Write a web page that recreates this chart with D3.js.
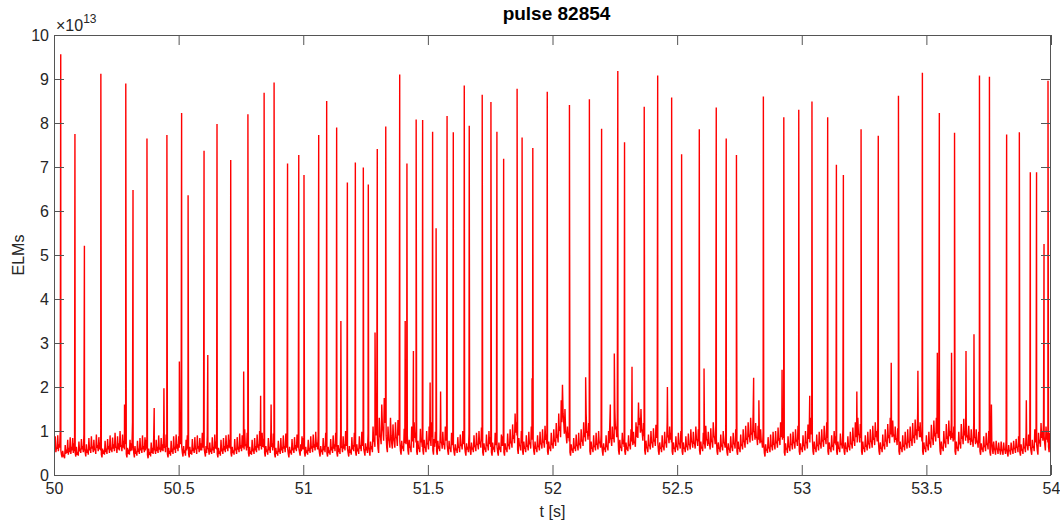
<!DOCTYPE html>
<html>
<head>
<meta charset="utf-8">
<script src="https://cdn.jsdelivr.net/npm/d3@7"></script>
<style>
  body { margin: 0; background: #fff; }
  svg { display: block; font-family: "Liberation Sans", Arial, sans-serif; }
</style>
</head>
<body>
<div class="elm_chart"></div>
<script>
// baseline signal, one value every 5 ms, in units of 1e11 (i.e. 0.01 x 1e13)
var base50 = [
  75,88,62,90,70,98,46,55,42,68,58,80,62,86,64,84,72,50,64,52,
  76,60,82,66,92,52,70,58,84,63,88,65,80,60,92,68,86,74,47,60,
  56,78,60,82,66,90,62,85,70,96,64,88,72,100,68,92,78,110,48,62,
  58,80,72,120,50,66,54,78,60,84,62,90,66,86,80,46,60,52,74,62,
  85,58,80,64,90,62,84,70,96,66,92,48,62,55,78,60,88,64,92,70,
  88,100,94,50,66,56,80,90,48,64,56,82,62,86,60,90,66,84,72,96,
  88,50,66,90,58,74,60,86,64,92,76,48,62,54,80,60,84,66,90,68,
  92,80,50,64,56,82,60,86,64,94,68,90,76,104,70,96,50,64,54,80,
  60,84,66,92,70,100,74,96,82,50,66,58,84,64,98,72,94,48,62,54,
  78,60,84,64,90,66,94,80,48,64,56,82,62,86,68,92,78,52,70,88
];
var base51 = [
  84,50,64,56,80,62,88,66,92,70,98,74,90,50,66,58,84,66,96,50,
  64,56,82,64,90,70,96,50,68,60,92,66,88,70,100,84,50,66,58,86,
  68,96,52,70,60,88,68,98,80,52,72,64,94,54,76,66,110,80,140,120,
  60,130,86,160,98,175,120,62,110,78,130,72,115,76,120,84,125,100,55,78,
  66,105,90,130,56,80,64,110,78,120,96,54,78,62,105,82,56,80,64,100,
  72,110,84,120,56,82,98,54,78,66,105,74,98,70,110,90,54,78,62,96,
  84,52,70,60,86,64,92,70,100,88,52,72,64,94,54,74,62,90,66,96,
  70,100,76,108,52,72,62,92,68,100,86,52,74,64,96,86,52,74,64,92,
  88,52,72,62,94,70,104,76,115,90,140,120,58,84,68,100,54,76,62,90,
  68,98,74,110,96,54,76,62,90,66,98,72,104,76,112,92,54,76,64,96
];
var base52 = [
  72,104,80,118,92,140,110,170,205,120,150,88,110,96,52,70,60,84,64,92,
  68,96,72,104,80,120,96,140,100,118,54,76,62,90,66,96,70,100,76,92,
  54,72,62,90,66,100,120,80,110,92,150,110,130,56,80,64,96,80,54,74,
  64,90,70,104,84,98,76,120,110,165,130,150,96,118,56,78,62,92,68,100,
  74,106,80,114,96,54,74,62,90,66,98,74,120,90,110,96,54,74,62,88,
  66,96,72,100,54,74,62,88,66,94,70,104,74,98,72,110,80,104,56,76,
  64,96,72,112,80,98,70,106,76,120,88,112,54,74,62,92,66,100,74,96,
  52,72,60,88,64,96,72,104,54,76,62,92,70,104,76,112,84,120,92,130,
  96,140,100,118,84,112,90,104,76,98,50,70,58,86,62,92,66,98,70,100,
  76,108,84,120,110,118,52,72,60,88,64,94,70,98,74,104,80,112,54,72
];
var base53 = [
  62,90,68,100,74,115,96,130,110,54,76,62,92,68,98,72,104,78,112,84,
  120,54,74,62,90,68,100,88,54,76,62,94,72,104,54,74,62,88,66,98,
  72,108,80,120,96,130,92,116,54,76,62,90,68,98,72,104,76,112,84,120,
  100,106,54,74,62,92,70,104,78,116,90,130,110,124,92,110,84,106,54,76,
  62,90,68,98,72,104,76,110,82,118,90,126,104,140,110,120,96,54,74,62,
  90,68,98,76,114,84,124,96,130,110,120,54,76,64,100,76,116,88,124,100,
  118,96,110,54,76,64,98,74,116,88,128,100,120,90,112,84,104,80,118,86,
  104,78,98,54,72,62,88,66,96,72,100,52,110,58,76,56,78,58,74,56,
  76,54,74,58,80,50,68,56,74,58,78,60,82,64,88,52,70,58,84,62,
  96,68,92,80,54,80,66,104,90,56,96,80,118,100,126,70,110,96,64,96,
  80
];

// lower edge of the noise, sampled half-way between the baseline samples (same units)
var low50 = [
  58,52,60,54,62,56,40,44,38,48,50,46,52,48,56,50,54,42,46,44,
  54,50,58,52,60,42,50,46,56,50,60,52,56,48,62,54,58,56,40,48,
  46,52,48,58,50,56,52,60,54,62,50,58,56,64,54,62,58,70,40,48,
  46,54,56,70,40,48,44,52,48,56,50,58,52,56,60,38,46,42,50,48,
  56,48,54,50,58,52,56,54,62,52,64,40,48,44,52,48,58,50,60,54,
  62,70,64,42,50,44,56,60,40,48,46,54,50,58,48,60,52,56,56,62,
  60,42,50,62,46,52,48,56,50,60,58,40,48,44,54,48,56,52,60,54,
  62,60,42,50,46,56,48,58,52,60,54,62,58,66,56,62,42,48,46,54,
  48,56,52,62,56,66,58,64,62,42,52,46,56,50,64,56,62,40,48,44,
  52,48,56,50,60,52,62,60,40,50,46,56,50,58,54,62,60,44,54,58
];
var low51 = [
  58,42,50,46,54,50,60,52,62,56,64,58,62,42,52,46,56,52,64,42,
  50,46,56,50,60,54,64,42,52,48,62,52,60,56,66,60,42,50,46,58,
  54,64,44,54,48,60,54,66,60,44,56,50,64,44,58,52,76,64,90,84,
  50,90,70,110,78,120,90,52,80,62,90,60,84,62,86,66,90,76,46,60,
  54,72,70,90,46,62,52,78,62,84,74,46,60,52,74,64,46,62,52,70,
  58,78,66,86,46,64,72,46,60,54,74,60,70,58,78,68,46,60,52,68,
  64,44,56,50,62,52,66,58,70,66,44,58,52,68,46,58,52,64,54,68,
  58,70,62,76,44,58,52,66,56,70,64,44,58,52,68,64,44,58,52,66,
  66,44,58,52,66,58,72,62,82,72,96,90,48,66,56,72,46,60,52,64,
  56,70,60,80,72,46,60,52,64,56,70,60,74,62,80,70,46,60,54,68
];
var low52 = [
  60,76,66,84,74,100,86,120,140,94,104,72,84,76,44,56,50,60,54,66,
  56,68,60,76,66,86,76,96,80,88,46,60,52,64,56,70,58,72,62,70,
  44,58,52,64,56,72,84,66,82,74,104,86,96,46,62,54,70,64,46,58,
  54,66,58,76,68,72,64,86,84,114,96,104,78,88,46,62,52,66,58,72,
  62,76,66,84,74,46,60,52,64,56,72,62,86,72,80,74,46,60,52,64,
  56,70,60,74,46,60,52,64,56,68,58,76,62,72,60,80,66,76,46,60,
  54,70,60,80,66,72,58,76,62,86,70,82,46,60,52,66,56,72,62,70,
  44,58,50,64,54,70,60,76,46,60,52,66,58,76,62,80,70,86,74,92,
  78,98,80,86,68,80,72,76,62,72,42,56,50,62,52,66,56,70,58,72,
  62,78,68,86,80,84,44,58,50,64,54,68,58,72,60,76,66,80,46,58
];
var low53 = [
  52,66,56,72,60,82,74,92,84,46,60,52,66,56,70,60,76,64,80,70,
  84,46,60,52,64,56,72,68,46,60,52,68,60,76,46,60,52,64,56,70,
  60,78,66,86,74,92,74,84,46,60,52,64,56,70,60,76,62,80,68,86,
  76,78,46,60,52,66,58,76,64,84,72,92,86,88,74,80,68,76,46,60,
  52,64,56,70,60,74,62,78,66,84,72,90,80,100,86,86,76,46,60,52,
  66,56,70,62,82,68,88,76,94,84,86,46,60,54,72,62,82,70,88,80,
  84,76,80,46,60,54,70,60,82,70,90,78,86,72,80,68,76,64,84,70,
  74,62,72,46,58,52,64,54,68,58,72,44,76,48,60,46,60,48,58,46,
  58,46,58,48,60,42,54,46,58,48,60,50,62,52,64,44,56,48,62,52,
  68,56,66,64,46,62,54,74,70,46,72,64,84,78,88,56,80,74,52,70
];

// large ELM bursts [t (s), peak (1e13)]
var elmPeaks = [
  [50.027,9.56],[50.084,7.75],[50.122,5.21],[50.188,9.12],[50.288,8.9],[50.317,6.48],
  [50.373,7.65],[50.453,7.73],[50.512,8.23],[50.538,6.36],[50.602,7.37],[50.654,7.98],
  [50.709,7.16],[50.778,8.2],[50.843,8.69],[50.883,8.92],[50.937,7.08],[50.982,7.27],
  [51.003,6.82],[51.062,7.73],[51.094,8.5],[51.134,7.9],[51.177,6.65],[51.209,7.1],
  [51.241,6.99],[51.261,6.6],[51.297,7.41],[51.331,7.92],[51.387,9.1],[51.416,7.08],
  [51.453,8.08],[51.479,8.07],[51.519,7.8],[51.533,5.61],[51.577,8.16],[51.602,7.79],
  [51.646,8.85],[51.666,7.94],[51.718,8.64],[51.753,8.48],[51.777,7.8],[51.804,7.19],
  [51.858,8.78],[51.878,7.67],[51.921,7.43],[51.979,8.71],[52.068,8.41],[52.148,8.54],
  [52.197,7.87],[52.262,9.18],[52.289,7.56],[52.368,8.37],[52.422,9.08],[52.478,8.58],
  [52.518,7.29],[52.589,7.86],[52.657,8.35],[52.697,7.65],[52.738,7.27],[52.846,8.6],
  [52.928,8.13],[52.988,8.3],[53.041,8.49],[53.104,8.13],[53.139,7.05],[53.167,6.82],
  [53.238,7.86],[53.307,7.71],[53.388,8.62],[53.484,9.14],[53.552,8.23],[53.613,7.78],
  [53.713,9.08],[53.753,9.05],[53.822,7.74],[53.873,7.79],[53.917,6.88],[53.942,6.88],
  [53.972,5.25],[53.988,8.96]
];

// smaller precursor spikes [t (s), peak (1e13)]
var smallPeaks = [
  [50.283,1.6],[50.402,1.52],[50.441,1.97],[50.503,2.58],[50.617,2.73],[50.761,2.35],
  [50.829,1.8],[50.871,1.6],[51.151,3.5],[51.288,3.24],[51.409,3.5],[51.442,2.82],
  [51.509,2.1],[51.551,1.9],[51.918,2.2],[52.133,2.22],[52.232,1.6],[52.248,2.76],
  [52.319,2.46],[52.461,2.0],[52.608,2.42],[52.807,2.21],[52.828,1.7],[52.921,2.39],
  [53.032,1.8],[53.221,1.9],[53.359,2.55],[53.466,2.37],[53.544,2.78],[53.601,2.78],
  [53.659,2.82],[53.691,3.2],[53.761,1.6],[53.901,1.7]
];

var xTicks = [50, 50.5, 51, 51.5, 52, 52.5, 53, 53.5, 54];
var yTicks = [0, 1, 2, 3, 4, 5, 6, 7, 8, 9, 10];

var W = 1060, H = 524;
var margin = {top: 35, right: 9, bottom: 49, left: 54},
  width = W - margin.left - margin.right,
  height = H - margin.top - margin.bottom;

var data = [];
base50.concat(base51, base52, base53).forEach(function (v, i) {
  data.push({t: 50 + i * 0.005, v: v / 100});
});
low50.concat(low51, low52, low53).forEach(function (v, i) {
  data.push({t: 50 + i * 0.005 + 0.0025, v: v / 100});
});
elmPeaks.concat(smallPeaks).forEach(function (p) {
  data.push({t: p[0], v: p[1]});
});
data.sort(function (a, b) { return a.t - b.t; });

var svg = d3.select(".elm_chart").append("svg")
  .attr("width", W)
  .attr("height", H);

var x = d3.scaleLinear().domain([50, 54]).range([margin.left, margin.left + width]),
  y = d3.scaleLinear().domain([0, 10]).range([margin.top + height, margin.top]);

svg.append("clipPath").attr("id", "plotclip")
  .append("rect")
  .attr("x", margin.left).attr("y", margin.top)
  .attr("width", width).attr("height", height);

var line = d3.line()
  .x(function (d) { return x(d.t); })
  .y(function (d) { return y(d.v); });

svg.append("path")
  .datum(data)
  .attr("clip-path", "url(#plotclip)")
  .attr("d", line)
  .style("fill", "none")
  .style("stroke", "#ff0000")
  .style("stroke-width", 1.4)
  .style("stroke-linejoin", "miter")
  .style("stroke-miterlimit", 2);

var axisColor = "#555", textColor = "#262626";

function styleAxis(g) {
  g.select(".domain").remove();
  g.selectAll(".tick line").attr("stroke", axisColor);
  g.selectAll(".tick text").attr("fill", textColor).style("font-size", "16px");
}

svg.append("g")
  .attr("transform", "translate(0," + (margin.top + height) + ")")
  .call(d3.axisBottom(x).tickValues(xTicks).tickSizeInner(-10).tickSizeOuter(0).tickPadding(8)
    .tickFormat(d3.format("")))
  .call(styleAxis);

svg.append("g")
  .attr("transform", "translate(0," + margin.top + ")")
  .call(d3.axisTop(x).tickValues(xTicks).tickSizeInner(-10).tickSizeOuter(0).tickFormat(""))
  .call(styleAxis);

svg.append("g")
  .attr("transform", "translate(" + margin.left + ",0)")
  .call(d3.axisLeft(y).tickValues(yTicks).tickSizeInner(-10).tickSizeOuter(0).tickPadding(5)
    .tickFormat(d3.format("d")))
  .call(styleAxis);

svg.append("g")
  .attr("transform", "translate(" + (margin.left + width) + ",0)")
  .call(d3.axisRight(y).tickValues(yTicks).tickSizeInner(-10).tickSizeOuter(0).tickFormat(""))
  .call(styleAxis);

svg.append("rect")
  .attr("x", margin.left + 0.5).attr("y", margin.top + 0.5)
  .attr("width", width - 1).attr("height", height)
  .style("fill", "none")
  .style("stroke", axisColor)
  .style("stroke-width", 1);

// exponent label
var expo = svg.append("text")
  .attr("x", margin.left + 2)
  .attr("y", 31)
  .attr("fill", textColor)
  .style("font-size", "16px")
  .text("\u00d710");
expo.append("tspan")
  .attr("dy", -8)
  .style("font-size", "12px")
  .text("13");

svg.append("text")
  .attr("x", margin.left + width / 2 + 4)
  .attr("y", 20)
  .attr("text-anchor", "middle")
  .attr("fill", "#000")
  .style("font-size", "19px")
  .style("font-weight", "bold")
  .text("pulse 82854");

svg.append("text")
  .attr("x", margin.left + width / 2)
  .attr("y", 517)
  .attr("text-anchor", "middle")
  .attr("fill", textColor)
  .style("font-size", "16px")
  .text("t [s]");

svg.append("text")
  .attr("transform", "translate(24," + (margin.top + height / 2) + ") rotate(-90)")
  .attr("text-anchor", "middle")
  .attr("fill", textColor)
  .style("font-size", "16px")
  .text("ELMs");
</script>
</body>
</html>
